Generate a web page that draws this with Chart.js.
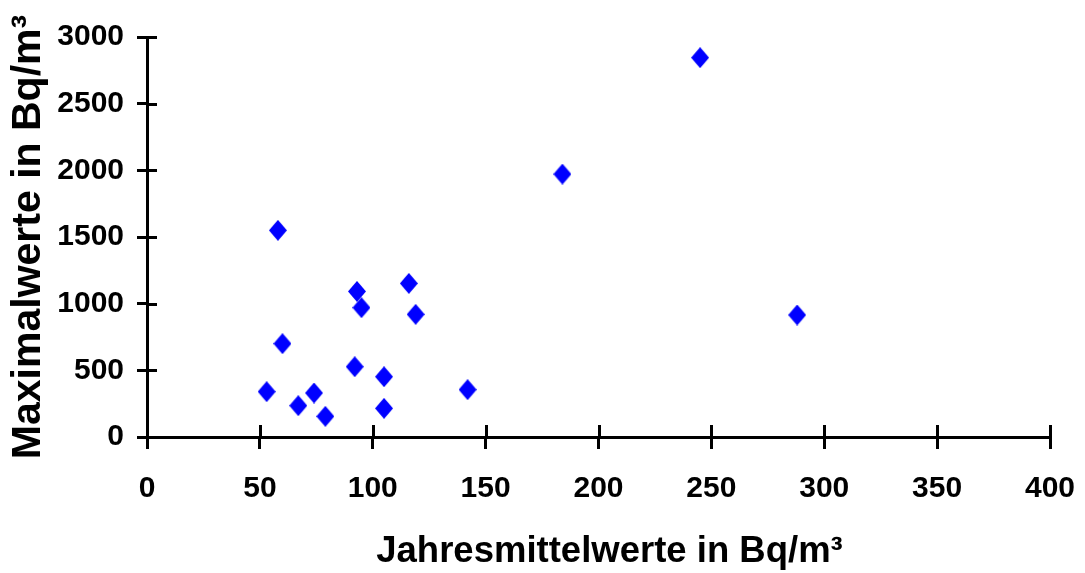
<!DOCTYPE html>
<html lang="de">
<head>
<meta charset="utf-8">
<title>Maximalwerte gegen Jahresmittelwerte</title>
<script src="https://cdn.jsdelivr.net/npm/chart.js@4/dist/chart.umd.min.js"></script>
<style>
  html, body { margin: 0; padding: 0; background: #fff; overflow: hidden; }
  #wrap { position: relative; width: 1085px; height: 573px; }
</style>
</head>
<body>
<div id="wrap"><canvas id="chart"></canvas></div>
<script>
// Jahresmittelwerte (x) und Maximalwerte (y), jeweils in Bq/m³
const jahresmittel = [53, 58, 60, 67, 74, 79, 92, 93, 95, 105, 105, 116, 119, 142, 184, 245, 288];
const maximal      = [340, 1550, 700, 235, 330, 155, 527, 1092, 970, 452, 215, 1152, 920, 355, 1972, 2845, 915];

// Achsenbereiche und Tick-Abstände
const xTicks = [0, 50, 100, 150, 200, 250, 300, 350, 400];
const yTicks = [0, 500, 1000, 1500, 2000, 2500, 3000];

const xTitle = 'Jahresmittelwerte in Bq/m³';
const yTitle = 'Maximalwerte in Bq/m³';

const FONT = '"Liberation Sans", Arial, Helvetica, sans-serif';

// Rauten-Markierung (etwas höher als breit)
function makeDiamond(w, h, color) {
  const c = document.createElement('canvas');
  c.width = w; c.height = h;
  const g = c.getContext('2d');
  g.fillStyle = color;
  g.beginPath();
  g.moveTo(w / 2, 0);
  g.lineTo(w, h / 2);
  g.lineTo(w / 2, h);
  g.lineTo(0, h / 2);
  g.closePath();
  g.fill();
  return c;
}
const diamond = makeDiamond(18, 21, '#0000ff');

const points = jahresmittel.map((x, i) => ({ x: x, y: maximal[i] }));

// Tick-Striche, die die Achsen nach innen kreuzen
const innerTicks = {
  id: 'innerTicks',
  beforeDatasetsDraw(chart) {
    const { ctx, chartArea, scales } = chart;
    ctx.save();
    ctx.strokeStyle = '#000';
    ctx.lineWidth = 3;
    ctx.beginPath();
    scales.x.ticks.forEach((t, i) => {
      const px = Math.round(scales.x.getPixelForTick(i)) + 0.5;
      ctx.moveTo(px, chartArea.bottom);
      ctx.lineTo(px, chartArea.bottom - 12);
    });
    scales.y.ticks.forEach((t, i) => {
      const py = Math.round(scales.y.getPixelForTick(i)) + 0.5;
      ctx.moveTo(chartArea.left, py);
      ctx.lineTo(chartArea.left + 10, py);
    });
    ctx.stroke();
    ctx.restore();
  }
};

// Titel der x-Achse, leicht rechts der Mitte der Zeichenfläche
const xAxisTitle = {
  id: 'xAxisTitle',
  afterDraw(chart) {
    const { ctx, chartArea } = chart;
    ctx.save();
    ctx.fillStyle = '#000';
    ctx.font = 'bold 36.5px ' + FONT;
    ctx.textAlign = 'center';
    ctx.textBaseline = 'alphabetic';
    ctx.fillText(xTitle, (chartArea.left + chartArea.right) / 2 + 11, 561.5);
    ctx.restore();
  }
};

new Chart(document.getElementById('chart'), {
  type: 'scatter',
  data: {
    datasets: [{
      data: points,
      pointStyle: diamond,
      pointRadius: 10,
      pointHoverRadius: 10,
      backgroundColor: '#0000ff',
      borderColor: '#0000ff'
    }]
  },
  options: {
    responsive: true,
    maintainAspectRatio: false,
    animation: false,
    events: [],
    layout: { padding: { top: 37, right: 35, bottom: 0, left: 0 } },
    plugins: {
      legend: { display: false },
      tooltip: { enabled: false }
    },
    scales: {
      x: {
        type: 'linear',
        min: xTicks[0],
        max: xTicks[xTicks.length - 1],
        afterBuildTicks: s => { s.ticks = xTicks.map(v => ({ value: v })); },
        afterFit: s => { s.height = 136; s.paddingLeft = 0; s.paddingRight = 0; },
        border: { display: true, color: '#000', width: 3 },
        grid: { drawOnChartArea: false, drawTicks: true, tickLength: 12, color: '#000', lineWidth: 3 },
        ticks: {
          color: '#000',
          padding: 22,
          maxRotation: 0,
          callback: v => String(v),
          font: { family: FONT, size: 30, weight: 'bold' }
        },
        title: { display: false }
      },
      y: {
        type: 'linear',
        min: yTicks[0],
        max: yTicks[yTicks.length - 1],
        afterBuildTicks: s => { s.ticks = yTicks.map(v => ({ value: v })); },
        afterFit: s => { s.width = 147; },
        border: { display: true, color: '#000', width: 3 },
        grid: { drawOnChartArea: false, drawTicks: true, tickLength: 10, color: '#000', lineWidth: 3 },
        ticks: {
          color: '#000',
          padding: 13,
          callback: v => String(v),
          font: { family: FONT, size: 30, weight: 'bold' }
        },
        title: {
          display: true,
          text: yTitle,
          color: '#000',
          padding: { top: 8, bottom: 0 },
          font: { family: FONT, size: 41, weight: 'bold', lineHeight: 1 }
        }
      }
    }
  },
  plugins: [innerTicks, xAxisTitle]
});
</script>
</body>
</html>
